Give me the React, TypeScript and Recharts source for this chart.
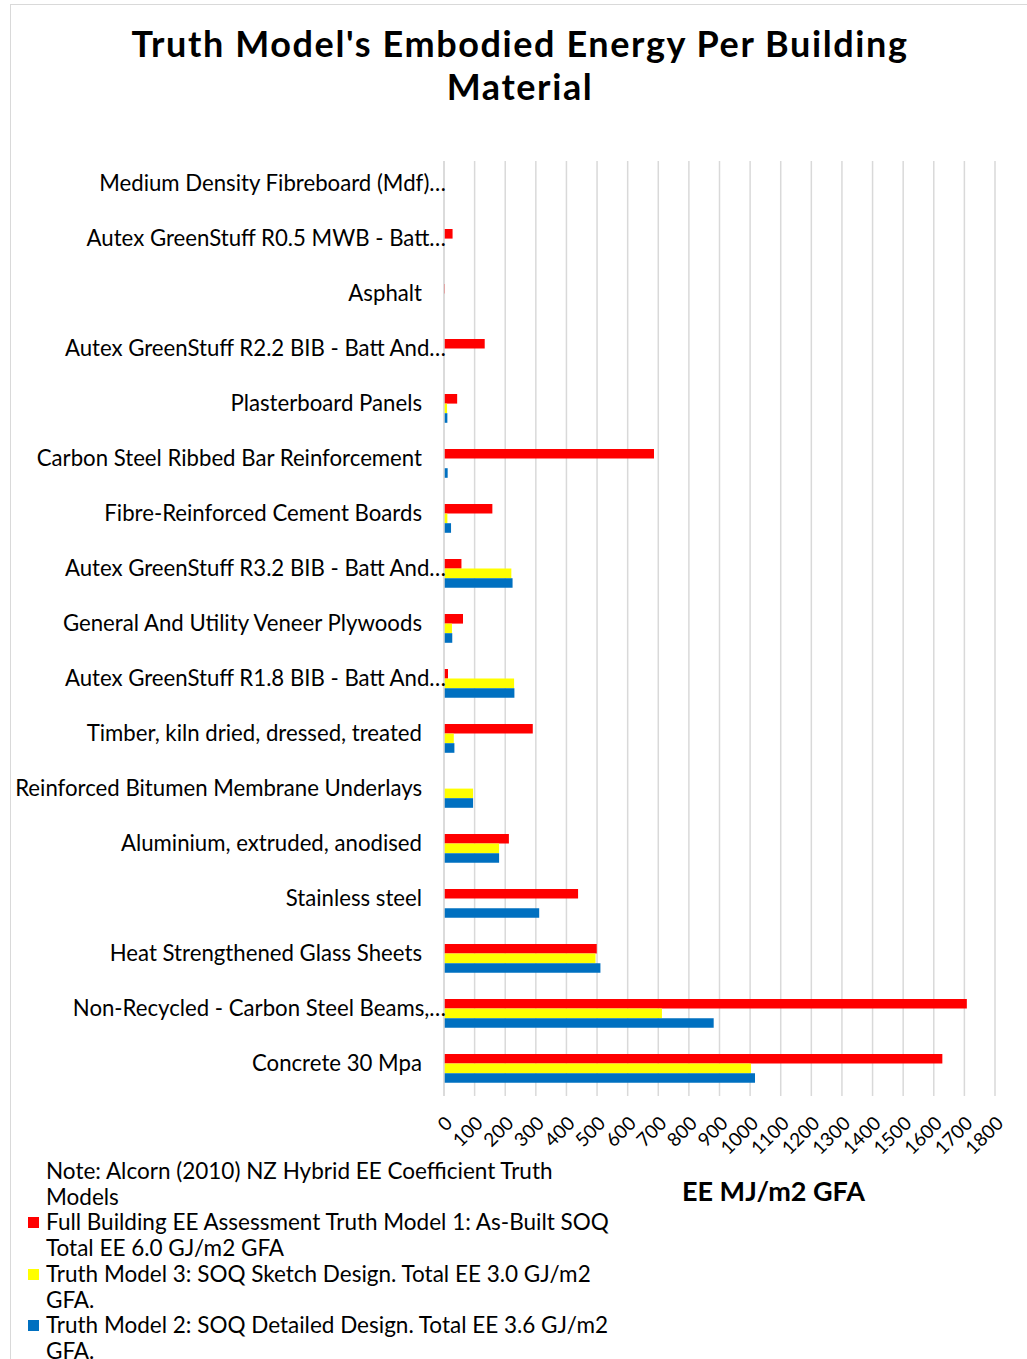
import React from 'react';
import { BarChart, Bar, XAxis, YAxis, CartesianGrid } from 'recharts';

const materials = [
  'Medium Density Fibreboard (Mdf)…',
  'Autex GreenStuff R0.5 MWB - Batt…',
  'Asphalt',
  'Autex GreenStuff R2.2 BIB - Batt And…',
  'Plasterboard Panels',
  'Carbon Steel Ribbed Bar Reinforcement',
  'Fibre-Reinforced Cement Boards',
  'Autex GreenStuff R3.2 BIB - Batt And…',
  'General And Utility Veneer Plywoods',
  'Autex GreenStuff R1.8 BIB - Batt And…',
  'Timber, kiln dried, dressed, treated',
  'Reinforced Bitumen Membrane Underlays',
  'Aluminium, extruded, anodised',
  'Stainless steel',
  'Heat Strengthened Glass Sheets',
  'Non-Recycled - Carbon Steel Beams,…',
  'Concrete 30 Mpa',
];

// MJ/m2 GFA per material
const model1 = [0, 28, 3, 133, 43, 686, 158, 57, 62, 13, 290, 0, 212, 438, 499, 1708, 1628];
const model3 = [0, 0, 0, 0, 10, 0, 11, 220, 26, 229, 32, 95, 180, 0, 495, 712, 1003];
const model2 = [0, 0, 0, 0, 11, 12, 23, 224, 27, 230, 34, 95, 180, 311, 511, 881, 1016];

const xTicks = [0, 100, 200, 300, 400, 500, 600, 700, 800, 900, 1000, 1100, 1200, 1300, 1400, 1500, 1600, 1700, 1800];

const seriesNames = [
  'Full Building EE Assessment Truth Model 1: As-Built SOQ Total EE 6.0 GJ/m2 GFA',
  'Truth Model 3: SOQ Sketch Design. Total EE 3.0 GJ/m2 GFA.',
  'Truth Model 2: SOQ Detailed Design. Total EE 3.6 GJ/m2 GFA.',
];
const seriesColors = ['#ff0000', '#ffff00', '#0070c0'];
const note = 'Note: Alcorn (2010) NZ Hybrid EE Coefficient Truth Models';

const data = materials.map((name, i) => ({
  name,
  m1: model1[i],
  m3: model3[i],
  m2: model2[i],
}));

const FONT = 'Lato, "Open Sans", sans-serif';

const CategoryTick = (props: any) => {
  const { x, y, payload } = props;
  const cut = String(payload.value).endsWith('…');
  return (
    <text x={cut ? x + 2 : x - 22} y={y + 2} textAnchor="end" fontSize={22.2} fontFamily={FONT} fill="#000">
      {payload.value}
    </text>
  );
};

export default function App() {
  return (
    <div style={{ position: 'absolute', left: 0, top: 0, width: 1027, height: 1359, background: '#fff', overflow: 'hidden', fontFamily: FONT }}>
      <div style={{ position: 'absolute', left: 10, top: 4, width: 1100, height: 1400, borderLeft: '1.5px solid #d9d9d9', borderTop: '1.5px solid #d9d9d9' }} />
      <div style={{ position: 'absolute', left: 10, width: 1020, top: 22, textAlign: 'center', fontWeight: 700, fontSize: 36, letterSpacing: 1.6, lineHeight: '43px', color: '#000' }}>
        Truth Model's Embodied Energy Per Building
        <br />
        Material
      </div>
      <div style={{ position: 'absolute', left: 0, top: 0 }}>
        <BarChart
          width={1027}
          height={1359}
          data={data}
          layout="vertical"
          margin={{ top: 161, right: 32, bottom: 203, left: 0 }}
          barGap={0}
        >
          <CartesianGrid horizontal={false} stroke="#d9d9d9" strokeWidth={1.5} />
          <XAxis
            type="number"
            domain={[0, 1800]}
            ticks={xTicks}
            interval={0}
            axisLine={false}
            tickLine={false}
            tickSize={0}
            tickMargin={19}
            height={60}
            angle={-45}
            textAnchor="end"
            tick={{ fontSize: 19, fontFamily: FONT, fill: '#000' }}
          />
          <YAxis
            type="category"
            dataKey="name"
            width={444}
            interval={0}
            tickLine={false}
            tickSize={0}
            tickMargin={0}
            axisLine={{ stroke: '#d9d9d9', strokeWidth: 1.5 }}
            tick={<CategoryTick />}
          />
          <Bar dataKey="m1" name={seriesNames[0]} fill={seriesColors[0]} barSize={9.6} isAnimationActive={false} />
          <Bar dataKey="m3" name={seriesNames[1]} fill={seriesColors[1]} barSize={9.6} isAnimationActive={false} />
          <Bar dataKey="m2" name={seriesNames[2]} fill={seriesColors[2]} barSize={9.6} isAnimationActive={false} />
        </BarChart>
      </div>
      <div style={{ position: 'absolute', left: 682, top: 1174, fontWeight: 700, fontSize: 27, color: '#000' }}>
        EE MJ/m2 GFA
      </div>
      <div style={{ position: 'absolute', left: 26, top: 1158, width: 592, fontSize: 22.5, lineHeight: '25.7px', color: '#000' }}>
        <div style={{ paddingLeft: 20 }}>{note}</div>
        {seriesNames.map((n, i) => (
          <div key={n} style={{ position: 'relative', paddingLeft: 20 }}>
            <span style={{ position: 'absolute', left: 2, top: 8, width: 11, height: 11, background: seriesColors[i] }} />
            {n}
          </div>
        ))}
      </div>
    </div>
  );
}
